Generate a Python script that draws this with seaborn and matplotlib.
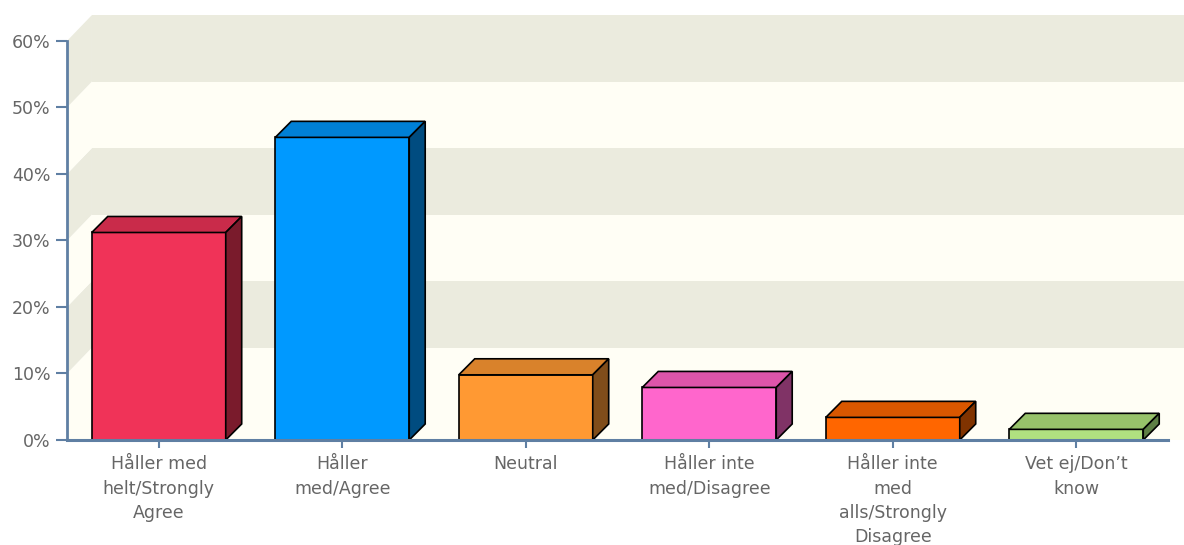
import matplotlib
matplotlib.use("Agg")
import matplotlib.pyplot as plt
import seaborn as sns
import pandas as pd
from matplotlib.patches import Polygon

# survey answers (share of respondents, %)
categories = [
    "Håller med\nhelt/Strongly\nAgree",
    "Håller\nmed/Agree",
    "Neutral",
    "Håller inte\nmed/Disagree",
    "Håller inte\nmed\nalls/Strongly\nDisagree",
    "Vet ej/Don\u2019t\nknow",
]
values = [31.2, 45.5, 9.8, 7.9, 3.4, 1.6]
y_ticks = [0, 10, 20, 30, 40, 50, 60]
y_tick_labels = [f"{t}%" for t in y_ticks]

# colours: front, top and side face of each bar
front_colors = ["#F03358", "#0099FF", "#FF9933", "#FF66CC", "#FF6600", "#B0E080"]
top_colors = ["#C92B4A", "#0080D6", "#D9822B", "#DD55AA", "#D95700", "#97C26A"]
side_colors = ["#7A1B2C", "#004C80", "#804D1A", "#803366", "#803300", "#5E7F45"]

band_a = "#EBEBDE"
band_b = "#FFFEF5"
axis_col = "#5F7FA3"
text_col = "#666666"

df = pd.DataFrame({"cat": categories, "val": values})

fig = plt.figure(figsize=(11.84, 5.45), dpi=100)
ax = fig.add_axes([67 / 1184, 105 / 545, (1184 - 67) / 1184, 425 / 545])

sns.barplot(data=df, x="cat", y="val", hue="cat", palette=front_colors,
            legend=False, width=0.73, edgecolor="black", linewidth=1.2,
            saturation=1, ax=ax, zorder=3)

xmax = 5.587
ax.set_xlim(-0.5, xmax)
ax.set_ylim(0, 63.9)

# back wall / side wall / floor
wdx, wdy = 0.136, 3.9
x0 = -0.5
for k in range(6):
    c = band_b if k % 2 == 0 else band_a
    lo, hi = k * 10, (k + 1) * 10
    ax.add_patch(Polygon([(x0 + wdx, lo + wdy), (xmax, lo + wdy), (xmax, hi + wdy),
                          (x0 + wdx, hi + wdy)], closed=True, fc=c, ec="none", zorder=0))
    ax.add_patch(Polygon([(x0, lo), (x0 + wdx, lo + wdy), (x0 + wdx, hi + wdy), (x0, hi)],
                         closed=True, fc=c, ec="none", zorder=0))
ax.add_patch(Polygon([(x0, 0), (x0 + wdx, wdy), (xmax, wdy), (xmax, 0)],
                     closed=True, fc=band_b, ec="none", zorder=0))

# 3d faces of the bars
dx, dy = 0.087, 2.41
for i, p in enumerate(ax.patches[:len(values)]):
    xl = p.get_x()
    xr = xl + p.get_width()
    h = p.get_height()
    ax.add_patch(Polygon([(xl, h), (xl + dx, h + dy), (xr + dx, h + dy), (xr, h)],
                         closed=True, fc=top_colors[i], ec="black", lw=1.2, zorder=3))
    ax.add_patch(Polygon([(xr, 0), (xr, h), (xr + dx, h + dy), (xr + dx, dy)],
                         closed=True, fc=side_colors[i], ec="black", lw=1.2, zorder=3))

# axes lines
for s in ax.spines.values():
    s.set_visible(False)
ax.plot([x0, x0], [0, 60], color=axis_col, lw=2, clip_on=False, zorder=4)
ax.plot([x0, 5.5], [0, 0], color=axis_col, lw=2.2, clip_on=False, zorder=4)

ax.set_yticks(y_ticks)
ax.set_yticklabels(y_tick_labels)
ax.set_xticks(range(len(categories)))
ax.set_xticklabels(categories, linespacing=1.45)
ax.tick_params(axis="y", length=8, width=1.5, color=axis_col, labelcolor=text_col,
               labelsize=12.5, pad=4)
ax.tick_params(axis="x", length=6, width=1.5, color=axis_col, labelcolor=text_col,
               labelsize=12.5, pad=5)
ax.set_xlabel("")
ax.set_ylabel("")
ax.set_facecolor("white")

fig.savefig("out.png", dpi=100, facecolor="white")
